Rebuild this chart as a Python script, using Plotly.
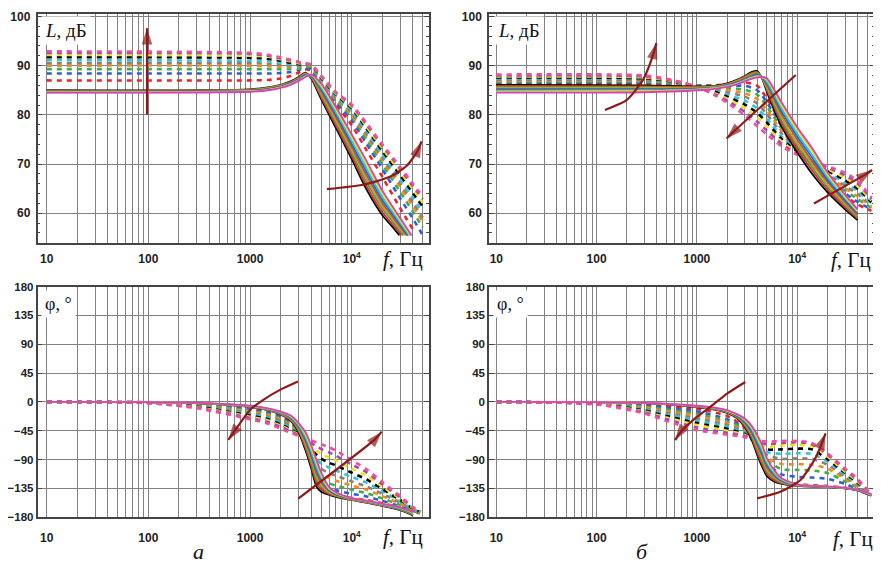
import plotly.graph_objects as go
from plotly.subplots import make_subplots

W, H = 881, 563
OFF = 8  # the page body margin shifts the figure by this many pixels

# ---------------- DATA ----------------
# Panel (a) magnitude, solid family (9 curves)
fA_mag_solid = [10, 1000, 1500, 2000, 2500, 3000, 3500, 4000, 5000, 7000, 10000, 14000, 20000, 25000]
A_mag_solid = [
    [85.0, 85.2, 85.6, 86.1, 86.8, 87.7, 88.6, 87.4, 83.2, 77.3, 71.0, 64.8, 59.6, 57.3],
    [84.9, 85.1, 85.5, 86.0, 86.7, 87.6, 88.5, 87.6, 83.6, 77.8, 71.6, 65.5, 60.2, 57.8],
    [84.9, 85.1, 85.5, 86.0, 86.6, 87.5, 88.4, 87.7, 84.0, 78.4, 72.3, 66.3, 60.9, 58.4],
    [84.8, 85.0, 85.4, 85.9, 86.5, 87.4, 88.3, 87.8, 84.4, 78.9, 72.9, 67.0, 61.5, 58.9],
    [84.8, 85.0, 85.3, 85.8, 86.5, 87.3, 88.2, 87.9, 84.8, 79.5, 73.5, 67.7, 62.1, 59.4],
    [84.7, 84.9, 85.2, 85.7, 86.4, 87.2, 88.1, 88.0, 85.2, 80.0, 74.1, 68.4, 62.7, 59.9],
    [84.6, 84.8, 85.1, 85.6, 86.3, 87.1, 87.9, 88.1, 85.6, 80.5, 74.8, 69.1, 63.3, 60.4],
    [84.6, 84.8, 85.1, 85.6, 86.2, 87.0, 87.8, 88.2, 86.0, 81.1, 75.4, 69.9, 64.0, 60.9],
    [84.5, 84.7, 85.0, 85.5, 86.1, 86.9, 87.7, 88.2, 86.4, 81.6, 76.0, 70.6, 64.6, 61.5],
]
A_mag_solid_end_f = [29500, 30800, 32200, 33500, 34800, 35800, 36800, 37800, 38800]
A_mag_solid_end_L = 55.5

# Panel (a) magnitude, dotted family (10 curves)
fA_mag_dot = [10, 1000, 1500, 2000, 2500, 3000, 3500, 4000, 5000, 7000, 10000, 14000, 20000, 30000, 40000, 50000]
A_mag_dot = [
    [87.0, 87.0, 87.1, 87.4, 87.9, 88.6, 89.2, 89.0, 85.3, 82.0, 77.9, 72.8, 67.4, 61.0, 56.7, None],
    [88.4, 88.4, 88.4, 88.5, 88.7, 89.1, 89.5, 89.4, 85.9, 82.6, 78.9, 74.1, 69.0, 63.0, 58.9, 55.5],
    [89.3, 89.3, 89.3, 89.3, 89.3, 89.4, 89.7, 89.7, 86.4, 83.0, 79.5, 75.0, 70.0, 64.3, 60.3, 57.1],
    [90.0, 90.0, 89.9, 89.8, 89.7, 89.7, 89.9, 89.9, 86.7, 83.3, 80.0, 75.6, 70.8, 65.3, 61.4, 58.3],
    [90.5, 90.5, 90.4, 90.2, 90.0, 89.9, 90.0, 90.0, 86.9, 83.5, 80.4, 76.0, 71.3, 66.0, 62.2, 59.1],
    [91.1, 91.0, 90.9, 90.6, 90.3, 90.1, 90.1, 90.1, 87.2, 83.8, 80.8, 76.6, 72.0, 66.8, 63.1, 60.2],
    [91.7, 91.6, 91.4, 91.0, 90.6, 90.3, 90.2, 90.2, 87.5, 84.1, 81.3, 77.2, 72.7, 67.7, 64.1, 61.3],
    [92.2, 92.0, 91.8, 91.3, 90.9, 90.5, 90.3, 90.2, 87.7, 84.3, 81.6, 77.6, 73.2, 68.4, 64.9, 62.2],
    [92.6, 92.4, 92.0, 91.5, 91.1, 90.7, 90.4, 90.2, 87.9, 84.5, 81.9, 78.0, 73.7, 69.0, 65.5, 62.9],
    [92.9, 92.6, 92.2, 91.7, 91.2, 90.8, 90.5, 90.2, 88.0, 84.6, 82.1, 78.3, 74.0, 69.4, 66.0, 63.4],
]

# Panel (a) phase, solid family
fA_ph_solid = [10, 100, 300, 1000, 1500, 2000, 2500, 3000, 3500, 4000, 4500, 5000, 6000, 7000, 10000, 14000, 20000, 30000, 40000]
A_ph_solid = [
    [0, -0.5, -2.0, -8.0, -13.0, -20.0, -29, -47.0, -75.0, -104.0, -132, -140, -145, -148.0, -153.0, -157.0, -162.0, -169, -177.0],
    [0, -0.5, -1.9, -7.8, -12.6, -19.4, -28, -45.0, -71.5, -99.5, -127, -136, -144, -147.0, -153.0, -157.0, -162.0, -168, -176.0],
    [0, -0.5, -1.9, -7.5, -12.3, -18.8, -27, -43.5, -68.0, -95.0, -122, -132, -142, -146.5, -152.0, -156.0, -161.0, -168, -176.0],
    [0, -0.5, -1.8, -7.3, -11.9, -18.1, -26, -41.5, -64.5, -90.5, -116, -129, -141, -145.5, -152.0, -156.0, -161.0, -167, -175.0],
    [0, -0.5, -1.8, -7.0, -11.5, -17.5, -25, -40.0, -61.0, -86.0, -111, -125, -139, -144.5, -151.5, -155.5, -160.5, -167, -174.5],
    [0, -0.5, -1.7, -6.8, -11.1, -16.9, -24, -38.0, -57.5, -81.5, -106, -121, -138, -143.5, -151.0, -155.0, -160.0, -166, -174.0],
    [0, -0.5, -1.6, -6.5, -10.8, -16.3, -23, -36.5, -54.0, -77.0, -101, -118, -136, -142.5, -151.0, -155.0, -160.0, -166, -173.0],
    [0, -0.5, -1.6, -6.3, -10.4, -15.6, -22, -34.5, -50.5, -72.5, -95, -114, -135, -142.0, -150.0, -154.0, -159.0, -165, -173.0],
    [0, -0.5, -1.5, -6.0, -10.0, -15.0, -21, -33.0, -47.0, -68.0, -90, -110, -133, -141.0, -150.0, -154.0, -159.0, -165, -172.0],
]

# Panel (a) phase, dotted family
fA_ph_dot = [10, 100, 300, 1000, 1500, 2000, 2500, 3000, 3500, 4000, 4500, 5000, 6000, 7000, 10000, 14000, 20000, 30000, 40000, 47000]
A_ph_dot = [
    [0, -0.5, -2.5, -10.0, -15.0, -22, -31.0, -45.0, -70.0, -98, -122.0, -134.0, -143.0, -146.0, -150.0, -153.0, -158.0, -165, -171.0, -174.0],
    [0, -0.7, -3.3, -11.9, -17.0, -24, -33.0, -46.0, -68.5, -94, -115.5, -126.5, -135.0, -138.0, -143.5, -147.5, -154.5, -163, -170.0, -173.5],
    [0, -0.8, -4.2, -13.8, -19.0, -26, -35.0, -47.0, -67.0, -90, -109.0, -119.0, -127.0, -130.5, -137.0, -142.5, -150.5, -161, -169.5, -173.0],
    [0, -1.0, -5.0, -15.7, -21.0, -28, -37.0, -48.0, -65.5, -85, -102.5, -111.5, -119.0, -123.0, -130.5, -137.0, -147.0, -159, -168.5, -173.0],
    [0, -1.2, -5.8, -17.6, -23.0, -30, -38.5, -49.0, -64.0, -81, -96.0, -104.0, -111.5, -115.0, -124.0, -132.0, -143.5, -157, -168.0, -172.5],
    [0, -1.3, -6.7, -19.4, -25.0, -33, -40.5, -49.5, -62.5, -77, -89.0, -96.0, -102.5, -107.0, -117.0, -126.0, -139.5, -155, -167.0, -172.5],
    [0, -1.5, -7.5, -21.3, -27.0, -35, -42.5, -50.5, -61.0, -73, -82.5, -88.5, -95.0, -99.0, -110.5, -121.0, -136.0, -153, -166.5, -172.0],
    [0, -1.7, -8.3, -23.2, -29.0, -37, -44.0, -51.0, -60.0, -68, -76.0, -81.0, -87.0, -91.5, -104.0, -115.5, -132.0, -151, -165.5, -172.0],
    [0, -1.8, -9.2, -25.1, -31.5, -39, -46.0, -52.0, -58.5, -64, -69.5, -73.5, -79.0, -84.0, -97.5, -110.0, -128.5, -149, -165.0, -171.5],
    [0, -2.0, -10.0, -27.0, -34.0, -42, -48.0, -53.0, -57.0, -60, -63.0, -66.0, -71.0, -76.0, -91.0, -105.0, -125.0, -147, -164.0, -171.0],
]

# Panel (b) magnitude, solid family
fB_mag_solid = [10, 300, 1000, 1500, 2000, 2500, 3000, 3500, 4000, 4500, 5000, 7000, 10000, 14000, 20000, 30000, 40000]
B_mag_solid = [
    [86.1, 86.0, 85.8, 85.9, 86.4, 87.1, 87.9, 88.7, 88.9, 87.2, 84.6, 77.6, 72.4, 68.1, 64.3, 60.8, 58.6],
    [85.9, 85.8, 85.7, 85.8, 86.3, 87.0, 87.8, 88.5, 88.7, 87.3, 85.0, 78.2, 73.0, 68.8, 64.8, 61.2, 58.9],
    [85.7, 85.7, 85.6, 85.8, 86.2, 86.9, 87.6, 88.4, 88.6, 87.3, 85.3, 78.8, 73.7, 69.4, 65.3, 61.6, 59.2],
    [85.5, 85.5, 85.5, 85.7, 86.1, 86.8, 87.5, 88.2, 88.4, 87.4, 85.7, 79.4, 74.3, 70.1, 65.8, 61.9, 59.5],
    [85.3, 85.3, 85.4, 85.6, 86.1, 86.7, 87.4, 88.0, 88.3, 87.5, 86.0, 80.1, 75.0, 70.7, 66.4, 62.3, 59.7],
    [85.1, 85.1, 85.3, 85.5, 86.0, 86.5, 87.2, 87.8, 88.1, 87.5, 86.4, 80.7, 75.6, 71.4, 66.9, 62.7, 60.0],
    [84.9, 85.0, 85.2, 85.5, 85.9, 86.4, 87.1, 87.6, 87.9, 87.6, 86.7, 81.3, 76.2, 72.0, 67.4, 63.1, 60.3],
    [84.7, 84.8, 85.1, 85.4, 85.8, 86.3, 86.9, 87.5, 87.8, 87.6, 87.1, 81.9, 76.9, 72.7, 67.9, 63.4, 60.5],
    [84.5, 84.6, 85.0, 85.3, 85.7, 86.2, 86.8, 87.3, 87.6, 87.7, 87.4, 82.5, 77.5, 73.3, 68.4, 63.8, 60.8],
]

# Panel (b) magnitude, dotted family
fB_mag_dot = [10, 300, 600, 1000, 1500, 2000, 3000, 4000, 5000, 7000, 10000, 14000, 20000, 30000, 40000, 55000]
B_mag_dot = [
    [86.3, 86.3, 86.2, 86.0, 86.0, 86.2, 86.6, 85.9, 83.3, 78.2, 73.6, 70.0, 66.8, 63.6, 61.8, 60.5],
    [86.5, 86.5, 86.3, 86.0, 85.8, 85.8, 85.9, 85.0, 82.5, 77.7, 73.4, 70.1, 67.1, 64.1, 62.3, 60.8],
    [86.7, 86.7, 86.4, 85.9, 85.6, 85.4, 85.1, 84.1, 81.7, 77.2, 73.2, 70.1, 67.4, 64.6, 62.9, 61.1],
    [86.9, 86.9, 86.5, 85.9, 85.3, 85.0, 84.4, 83.2, 80.9, 76.7, 73.0, 70.2, 67.7, 65.1, 63.4, 61.4],
    [87.1, 87.0, 86.6, 85.9, 85.1, 84.6, 83.7, 82.3, 80.1, 76.2, 72.9, 70.3, 68.0, 65.6, 63.9, 61.7],
    [87.4, 87.3, 86.6, 85.8, 84.9, 84.1, 82.9, 81.3, 79.2, 75.6, 72.6, 70.3, 68.4, 66.2, 64.5, 62.0],
    [87.6, 87.4, 86.7, 85.8, 84.7, 83.7, 82.1, 80.4, 78.4, 75.1, 72.5, 70.4, 68.7, 66.7, 65.0, 62.3],
    [87.8, 87.6, 86.8, 85.8, 84.4, 83.3, 81.4, 79.5, 77.6, 74.6, 72.3, 70.5, 69.0, 67.2, 65.5, 62.6],
    [88.0, 87.8, 86.9, 85.7, 84.2, 82.9, 80.6, 78.6, 76.8, 74.1, 72.1, 70.5, 69.3, 67.7, 66.1, 62.9],
    [88.2, 88.0, 87.0, 85.7, 84.0, 82.5, 79.9, 77.7, 76.0, 73.6, 71.9, 70.6, 69.6, 68.2, 66.6, 63.2],
]

# Panel (b) phase, solid family
fB_ph_solid = [10, 100, 300, 1000, 1500, 2000, 2500, 3000, 3500, 4000, 4500, 5000, 6000, 7000, 10000, 14000, 20000, 30000, 40000, 55000]
B_ph_solid = [
    [0, -0.5, -1.5, -8.0, -12.0, -17.0, -25.0, -39.0, -58.0, -83.0, -102, -116.0, -125.0, -128.0, -131.0, -132.0, -133.0, -135.0, -138.0, -146.0],
    [0, -0.5, -1.5, -7.8, -11.6, -16.5, -24.0, -37.5, -55.5, -79.0, -98, -112.5, -123.0, -127.0, -131.0, -132.0, -133.0, -135.0, -138.0, -146.0],
    [0, -0.5, -1.5, -7.5, -11.3, -16.0, -23.5, -35.5, -52.5, -75.0, -94, -109.0, -120.0, -126.0, -130.5, -132.0, -133.0, -135.0, -138.0, -145.5],
    [0, -0.5, -1.5, -7.3, -10.9, -15.5, -22.5, -34.0, -50.0, -71.0, -89, -105.5, -118.0, -125.0, -130.0, -131.5, -132.5, -134.5, -137.5, -145.0],
    [0, -0.5, -1.5, -7.0, -10.5, -15.0, -22.0, -32.5, -47.5, -67.5, -85, -102.0, -116.5, -123.5, -130.0, -131.5, -132.5, -134.5, -137.5, -145.0],
    [0, -0.5, -1.5, -6.8, -10.1, -14.5, -21.0, -31.0, -45.0, -63.5, -81, -98.5, -114.5, -122.5, -130.0, -131.5, -132.5, -134.5, -137.5, -145.0],
    [0, -0.5, -1.5, -6.5, -9.8, -14.0, -20.5, -29.0, -42.0, -59.5, -77, -95.0, -112.5, -121.5, -129.5, -131.0, -132.0, -134.0, -137.0, -144.5],
    [0, -0.5, -1.5, -6.3, -9.4, -13.5, -19.5, -27.5, -39.5, -55.5, -72, -91.5, -110.0, -120.0, -129.0, -131.0, -132.0, -134.0, -137.0, -144.5],
    [0, -0.5, -1.5, -6.0, -9.0, -13.0, -19.0, -26.0, -37.0, -52.0, -68, -88.0, -108.0, -119.0, -129.0, -131.0, -132.0, -134.0, -137.0, -144.0],
]

# Panel (b) phase, dotted family
fB_ph_dot = [10, 100, 300, 500, 1000, 2000, 3000, 4000, 5000, 7000, 10000, 14000, 20000, 30000, 40000, 55000]
B_ph_dot = [
    [0, -1.5, -4.5, -7.0, -11, -22, -40.0, -72, -101, -121, -128, -130, -131, -134, -138, -146],
    [0, -1.8, -6.0, -9.5, -15, -27, -42.0, -72, -96, -113, -117, -118, -120, -128, -136, -146],
    [0, -2.1, -7.5, -12.0, -19, -30, -43.5, -71, -91, -105, -106, -107, -111, -124, -134, -146],
    [0, -2.4, -9.0, -14.5, -22, -33, -45.0, -70, -87, -97, -97, -98, -104, -120, -132, -146],
    [0, -2.6, -10.5, -17.0, -26, -36, -46.5, -69, -83, -89, -88, -89, -98, -117, -130, -145],
    [0, -2.9, -12.0, -19.5, -29, -39, -48.0, -68, -78, -81, -80, -81, -93, -114, -128, -145],
    [0, -3.2, -13.5, -22.0, -33, -42, -50.0, -66, -74, -74, -73, -74, -89, -111, -126, -145],
    [0, -3.4, -15.0, -24.5, -36, -45, -51.5, -64, -70, -68, -67, -69, -85, -109, -124, -145],
    [0, -3.7, -16.5, -27.0, -40, -48, -53.0, -62, -66, -64, -63, -66, -82, -106, -122, -145],
    [0, -4.0, -18.0, -30.0, -44, -51, -55.0, -60, -62, -61, -61, -64, -80, -104, -120, -145],
]

# Trend arrows (frequency, value) along each arrow, tip last
arrowA_mag_1 = ([97, 97, 97], [80.0, 95.0, 97.6])
arrowA_mag_2 = ([5700, 13000, 23700, 34600, 44000, 48600], [64.9, 65.8, 67.4, 69.6, 72.5, 74.6])
arrowB_mag_1 = ([121, 199, 290, 370, 394], [81.0, 83.0, 87.1, 92.5, 94.6])
arrowB_mag_2 = ([9680, 2300, 1980], [88.1, 76.5, 75.2])
arrowB_mag_3 = ([14700, 48000, 55800], [62.0, 67.9, 68.8])
arrowA_ph_1 = ([2960, 1970, 1350, 1000, 700, 611], [31.8, 18.8, 3.2, -12.5, -46.0, -59.4])
arrowA_ph_2 = ([2980, 17000, 19700], [-150.7, -58.0, -46.4])
arrowB_ph_1 = ([3040, 2000, 1360, 1000, 680, 607], [31.1, 13.0, -7.8, -23.4, -48.0, -59.6])
arrowB_ph_2 = ([3980, 6800, 10800, 15500, 19200], [-150.4, -140.1, -121.9, -85.0, -49.2])

# Axis ticks
x_grid_vals = sorted(set(m * 10 ** e for e in range(1, 5) for m in range(1, 10) if m * 10 ** e <= 50000))
x_labels = {10: "10", 100: "100", 1000: "1000", 10000: "10<sup>4</sup>"}
mag_ticks = [60, 70, 80, 90, 100]
phase_ticks = [-180, -135, -90, -45, 0, 45, 90, 135, 180]

# ---------------- STYLE ----------------
solid_colors = ["#000000", "#e3262b", "#3aa845", "#f08a24", "#8c6a45", "#2e5fd0", "#2fc1d8", "#eedd1a", "#d83fb8"]
dot_colors = ["#e8262a", "#2f5fd0", "#3fae49", "#f08a24", "#8f7f70", "#33c4d6", "#000000", "#f0e21c", "#9b4fb3", "#f04da0"]
ARROW = "#8e1a1a"
GRID = "#828282"
FRAME = "#444444"
SERIF = "Liberation Serif, Times New Roman, serif"
SANS = "Liberation Sans, Arial, sans-serif"

fig = make_subplots(rows=2, cols=2)


def add_family(freqs, curves, colors, dash, width, row, col, ends=None, end_level=None):
    for k, vals in enumerate(curves):
        xs = [f for f, v in zip(freqs, vals) if v is not None]
        ys = [v for v in vals if v is not None]
        if ends is not None:
            xs.append(ends[k])
            ys.append(end_level)
        fig.add_trace(go.Scatter(
            x=xs, y=ys, mode="lines",
            line=dict(color=colors[k % len(colors)], width=width, dash=dash,
                      shape="spline", smoothing=0.7),
            hoverinfo="skip", showlegend=False), row=row, col=col)


DOT = "5px,5px"
add_family(fA_mag_dot, A_mag_dot, dot_colors, DOT, 2.6, 1, 1)
add_family(fA_mag_solid, A_mag_solid, solid_colors, "solid", 1.8, 1, 1,
           ends=A_mag_solid_end_f, end_level=A_mag_solid_end_L)
add_family(fB_mag_dot, B_mag_dot, dot_colors, DOT, 2.6, 1, 2)
add_family(fB_mag_solid, B_mag_solid, solid_colors, "solid", 1.8, 1, 2)
add_family(fA_ph_dot, A_ph_dot, dot_colors, DOT, 2.6, 2, 1)
add_family(fA_ph_solid, A_ph_solid, solid_colors, "solid", 1.8, 2, 1)
add_family(fB_ph_dot, B_ph_dot, dot_colors, DOT, 2.6, 2, 2)
add_family(fB_ph_solid, B_ph_solid, solid_colors, "solid", 1.8, 2, 2)


def add_arrow(arrow, row, col):
    fs, vs = arrow
    n = len(fs)
    fig.add_trace(go.Scatter(
        x=fs, y=vs, mode="lines+markers",
        line=dict(color=ARROW, width=2.2, shape="spline", smoothing=0.6),
        marker=dict(symbol="arrow", size=[0] * (n - 1) + [17], angleref="previous",
                    color=ARROW, line=dict(width=0)),
        hoverinfo="skip", showlegend=False), row=row, col=col)


add_arrow(arrowA_mag_1, 1, 1)
add_arrow(arrowA_mag_2, 1, 1)
add_arrow(arrowB_mag_1, 1, 2)
add_arrow(arrowB_mag_2, 1, 2)
add_arrow(arrowB_mag_3, 1, 2)
add_arrow(arrowA_ph_1, 2, 1)
add_arrow(arrowA_ph_2, 2, 1)
add_arrow(arrowB_ph_1, 2, 2)
add_arrow(arrowB_ph_2, 2, 2)


# ---------------- AXES ----------------
def fx(px):
    return (px - OFF) / W


def fy(py):
    return 1 - (py - OFF) / H


left_dom = [fx(37.5), fx(429)]
right_dom = [fx(489), fx(875)]
top_dom = [fy(243), fy(13.5)]
bot_dom = [fy(517.3), fy(286.5)]
left_rng = [0.9095, 4.760]
right_rng = [0.927, 4.776]

xcommon = dict(type="log", tickvals=x_grid_vals,
               ticktext=[x_labels.get(v, "") for v in x_grid_vals],
               showgrid=True, gridcolor=GRID, gridwidth=1.3,
               showline=True, linecolor=FRAME, linewidth=1.5, mirror=True,
               ticks="", tickfont=dict(family=SANS, size=12, color="#222", weight="bold"),
               zeroline=False, automargin=False)
ymag = dict(range=[53.96, 100.6], tickvals=mag_ticks, showgrid=True, gridcolor=GRID, gridwidth=1.3,
            showline=True, linecolor=FRAME, linewidth=1.5, mirror="ticks",
            ticks="inside", ticklen=5, tickcolor=FRAME, tickwidth=1.2,
            minor=dict(dtick=2, ticks="inside", ticklen=3, tickcolor=FRAME, showgrid=False),
            tickfont=dict(family=SANS, size=12, color="#222", weight="bold"),
            ticklabelstandoff=3, zeroline=False, automargin=False)
yph = dict(range=[-180, 180], tickvals=phase_ticks, showgrid=True, gridcolor=GRID, gridwidth=1.3,
           showline=True, linecolor=FRAME, linewidth=1.5, mirror="ticks",
           ticks="inside", ticklen=5, tickcolor=FRAME, tickwidth=1.2,
           tickfont=dict(family=SANS, size=11.5, color="#222", weight="bold"),
           ticklabelstandoff=0, zeroline=False, automargin=False)

fig.update_layout(
    xaxis=dict(xcommon, domain=left_dom, range=left_rng, anchor="y", ticklabelstandoff=4),
    xaxis2=dict(xcommon, domain=right_dom, range=right_rng, anchor="y2", ticklabelstandoff=4),
    xaxis3=dict(xcommon, domain=left_dom, range=left_rng, anchor="y3", ticklabelstandoff=9),
    xaxis4=dict(xcommon, domain=right_dom, range=right_rng, anchor="y4", ticklabelstandoff=9),
    yaxis=dict(ymag, domain=top_dom, anchor="x"),
    yaxis2=dict(ymag, domain=top_dom, anchor="x2"),
    yaxis3=dict(yph, domain=bot_dom, anchor="x3"),
    yaxis4=dict(yph, domain=bot_dom, anchor="x4"),
)

annotations = []


def pa(px, py, text, size, xanchor="center", bg=None, pad=1):
    d = dict(x=fx(px), y=fy(py), xref="paper", yref="paper", text=text, showarrow=False,
             xanchor=xanchor, yanchor="middle", font=dict(family=SERIF, size=size, color="#111"),
             borderpad=pad)
    if bg:
        d["bgcolor"] = bg
    annotations.append(d)


pa(41, 31, "<i>L</i>, дБ", 19, xanchor="left", bg="white", pad=3)
pa(494, 31, "<i>L</i>, дБ", 19, xanchor="left", bg="white", pad=3)
pa(41, 304, "φ, °", 18, xanchor="left", bg="white", pad=3)
pa(493, 304, "φ, °", 18, xanchor="left", bg="white", pad=3)
pa(403, 259, "<i>f</i>, Гц", 21)
pa(851, 260, "<i>f</i>, Гц", 21)
pa(403, 537, "<i>f</i>, Гц", 21)
pa(853, 539, "<i>f</i>, Гц", 21)
pa(198, 551, "<i>а</i>", 22)
pa(642, 551, "<i>б</i>", 22)

fig.update_layout(
    width=W, height=H, margin=dict(l=0, r=0, t=0, b=0, autoexpand=False),
    paper_bgcolor="white", plot_bgcolor="white",
    showlegend=False, annotations=annotations,
)

fig.write_html("out.html")
